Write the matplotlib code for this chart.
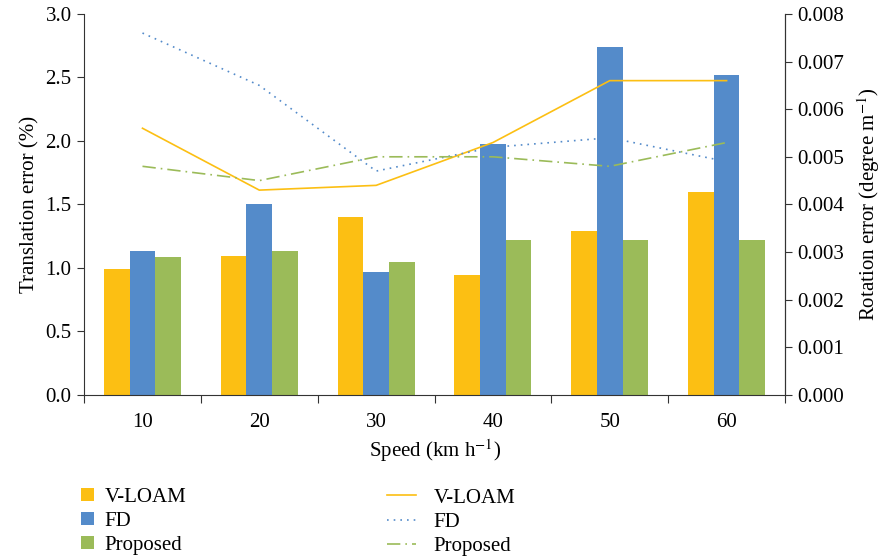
import matplotlib
matplotlib.use("Agg")
import matplotlib.pyplot as plt
import numpy as np

plt.rcParams['font.family'] = ['Liberation Serif', 'DejaVu Serif']
plt.rcParams['mathtext.fontset'] = 'stix'
plt.rcParams['font.size'] = 15

# Velocidades y errores
speeds = ['10', '20', '30', '40', '50', '60']
methods = ['V-LOAM', 'FD', 'Proposed']

trans_vloam = [0.99, 1.095, 1.40, 0.945, 1.29, 1.60]
trans_fd = [1.13, 1.50, 0.97, 1.975, 2.74, 2.52]
trans_prop = [1.085, 1.13, 1.05, 1.22, 1.22, 1.22]

rot_vloam = [0.0056, 0.0043, 0.0044, 0.0053, 0.0066, 0.0066]
rot_fd = [0.0076, 0.0065, 0.0047, 0.0052, 0.0054, 0.0049]
rot_prop = [0.0048, 0.0045, 0.0050, 0.0050, 0.0048, 0.0053]

colors = ['#FCBF13', '#548BCA', '#9BBB59']
styles = ['-', (0, (1, 3)), (0, (8, 3, 1, 3))]

fig = plt.figure(figsize=(8.85, 5.6), dpi=100)
ax = fig.add_axes([0.095, 0.295, 0.792, 0.68])
ax2 = ax.twinx()

x = np.arange(len(speeds))
w = 0.22
bars = []
for i, vals in enumerate([trans_vloam, trans_fd, trans_prop]):
    b = ax.bar(x + (i - 1) * w, vals, w, color=colors[i], label=methods[i], zorder=2)
    bars.append(b)

lines = []
for i, vals in enumerate([rot_vloam, rot_fd, rot_prop]):
    l, = ax2.plot(x, vals, color=colors[i], linestyle=styles[i], lw=1.2, label=methods[i])
    lines.append(l)

# Ejes
ax.set_xlim(-0.5, len(speeds) - 0.5)
ax.set_ylim(0, 3.0)
ax.set_yticks(np.arange(0, 3.01, 0.5))
ax.set_yticklabels([f'{v:.1f}' for v in np.arange(0, 3.01, 0.5)])
ax2.set_ylim(0, 0.008)
ax2.set_yticks(np.arange(0, 0.00801, 0.001))
ax2.set_yticklabels([f'{v:.3f}' for v in np.arange(0, 0.00801, 0.001)])

ax.set_xticks(np.arange(-0.5, len(speeds), 1.0))
ax.set_xticklabels([])
ax.set_xticks(x, minor=True)
ax.set_xticklabels(speeds, minor=True)
ax.tick_params(axis='x', which='minor', length=0, pad=13)
ax.tick_params(axis='x', which='major', length=6, color='#333333')
ax.tick_params(axis='y', length=5, color='#333333', pad=4)
ax2.tick_params(axis='y', length=5, color='#333333', pad=4)

for a in (ax, ax2):
    a.spines['top'].set_visible(False)
    for s in ('left', 'right', 'bottom'):
        a.spines[s].set_color('#333333')
ax2.spines['left'].set_visible(False)
ax2.spines['bottom'].set_visible(False)

ax.set_xlabel('Speed (km h$^{-1}$)', labelpad=4)
ax.set_ylabel('Translation error (%)', labelpad=4)
ax2.set_ylabel('Rotation error (degree m$^{-1}$)', labelpad=8)

# Leyendas: barras a la izquierda, líneas a la derecha
fig.legend(bars, methods, loc='upper left', bbox_to_anchor=(0.080, 0.147),
           frameon=False, borderpad=0, handlelength=0.6, handleheight=0.6,
           labelspacing=0.23, handletextpad=0.53, fontsize=15)
fig.legend(lines, methods, loc='upper left', bbox_to_anchor=(0.426, 0.147),
           frameon=False, borderpad=0, handlelength=1.35,
           labelspacing=0.23, handletextpad=0.87, fontsize=15)

fig.savefig('out.png', dpi=100)
